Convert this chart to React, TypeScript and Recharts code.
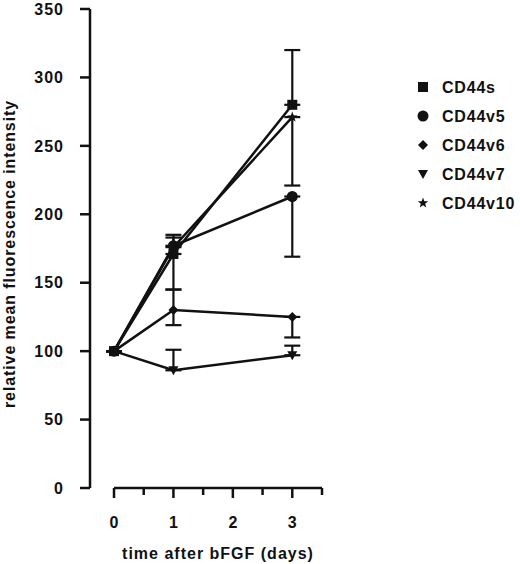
import { LineChart, Line, XAxis, YAxis, ErrorBar, ReferenceLine, Legend } from 'recharts';

// days after bFGF
const days = [0, 1, 3];
const cd44s = [100, 171, 280];
const cd44v5 = [100, 177, 213];
const cd44v6 = [100, 130, 125];
const cd44v7 = [100, 86, 97];
const cd44v10 = [100, 176, 271];
// [down, up] error per point
const cd44sErr = [[0, 0], [26, 0], [0, 40]];
const cd44v5Err = [[0, 0], [0, 8], [44, 0]];
const cd44v6Err = [[0, 0], [11, 15], [15, 0]];
const cd44v7Err = [[0, 0], [0, 15], [0, 7]];
const cd44v10Err = [[0, 0], [0, 7], [50, 0]];

const xTicks = [0, 0.5, 1, 1.5, 2, 2.5, 3, 3.5];
const yTicks = [0, 50, 100, 150, 200, 250, 300, 350];

const rows = days.map((d, i) => ({
  day: d,
  cd44s: cd44s[i], cd44sErr: cd44sErr[i],
  cd44v5: cd44v5[i], cd44v5Err: cd44v5Err[i],
  cd44v6: cd44v6[i], cd44v6Err: cd44v6Err[i],
  cd44v7: cd44v7[i], cd44v7Err: cd44v7Err[i],
  cd44v10: cd44v10[i], cd44v10Err: cd44v10Err[i],
}));

const series = [
  { key: 'cd44s', name: 'CD44s', shape: 'square' },
  { key: 'cd44v5', name: 'CD44v5', shape: 'circle' },
  { key: 'cd44v6', name: 'CD44v6', shape: 'diamond' },
  { key: 'cd44v7', name: 'CD44v7', shape: 'triangle' },
  { key: 'cd44v10', name: 'CD44v10', shape: 'star' },
];

const INK = '#111';
const FONT = '"Liberation Sans", Arial, sans-serif';

function Marker({ shape, cx, cy }: { shape: string; cx: number; cy: number }) {
  if (shape === 'square') return <rect x={cx - 5} y={cy - 5} width={10} height={10} fill={INK} />;
  if (shape === 'circle') return <circle cx={cx} cy={cy} r={5.5} fill={INK} />;
  if (shape === 'diamond')
    return <polygon points={`${cx},${cy - 5} ${cx + 5},${cy} ${cx},${cy + 5} ${cx - 5},${cy}`} fill={INK} />;
  if (shape === 'triangle')
    return <polygon points={`${cx - 5},${cy - 4} ${cx + 5},${cy - 4} ${cx},${cy + 5}`} fill={INK} />;
  const pts: string[] = [];
  for (let k = 0; k < 10; k++) {
    const r = k % 2 === 0 ? 5.5 : 2.3;
    const a = -Math.PI / 2 + (k * Math.PI) / 5;
    pts.push(`${cx + r * Math.cos(a)},${cy + r * Math.sin(a)}`);
  }
  return <polygon points={pts.join(' ')} fill={INK} />;
}

function XTick({ x, y, payload }: any) {
  const major = Number.isInteger(payload.value);
  return (
    <g>
      <line x1={x} x2={x} y1={y} y2={y + (major ? 10 : 7)} stroke={INK} strokeWidth={2.5} />
      {major && (
        <text x={x} y={y + 40} textAnchor="middle" fontSize={16} fontWeight="bold" fill={INK} fontFamily={FONT}>
          {payload.value}
        </text>
      )}
    </g>
  );
}

function LegendBox() {
  return (
    <svg width={105} height={150}>
      {series.map((s, i) => (
        <g key={s.key}>
          <Marker shape={s.shape} cx={8} cy={12 + i * 29} />
          <text x={27} y={12 + i * 29 + 6} fontSize={16} fontWeight="bold" fill={INK} fontFamily={FONT} letterSpacing={0.8}>
            {s.name}
          </text>
        </g>
      ))}
    </svg>
  );
}

export default function App() {
  return (
    <div style={{ position: 'absolute', left: 0, top: 0, width: 520, height: 564, background: '#fff' }}>
      <LineChart width={520} height={564} data={rows} margin={{ top: 9, right: 198, bottom: 26, left: 20 }}>
        <XAxis
          type="number"
          dataKey="day"
          domain={[-0.404, 3.5]}
          ticks={xTicks}
          axisLine={false}
          tickLine={false}
          tickSize={0}
          tickMargin={0}
          height={50}
          tick={<XTick />}
          interval={0}
          label={{
            content: () => (
              <text x={218} y={559} textAnchor="middle" fontSize={16} fontWeight="bold" fill={INK} fontFamily={FONT} letterSpacing={1}>
                time after bFGF (days)
              </text>
            ),
          }}
        />
        <YAxis
          type="number"
          domain={[0, 350]}
          ticks={yTicks}
          width={70}
          interval={0}
          tickSize={10}
          tickMargin={16}
          axisLine={{ stroke: INK, strokeWidth: 2.5 }}
          tickLine={{ stroke: INK, strokeWidth: 2.5 }}
          tick={{ fill: INK, fontSize: 16, fontWeight: 'bold', fontFamily: FONT, letterSpacing: 1 }}
          label={{
            content: () => (
              <text x={15} y={254} transform="rotate(-90, 15, 254)" textAnchor="middle" fontSize={16} fontWeight="bold" fill={INK} fontFamily={FONT} letterSpacing={0.9}>
                relative mean fluorescence intensity
              </text>
            ),
          }}
        />
        <ReferenceLine segment={[{ x: 0, y: 0 }, { x: 3.5, y: 0 }]} stroke={INK} strokeWidth={2.5} ifOverflow="visible" />
        {[...series].reverse().map((s) => (
          <Line
            key={s.key}
            type="linear"
            dataKey={s.key}
            name={s.name}
            stroke={INK}
            strokeWidth={2.5}
            isAnimationActive={false}
            activeDot={false}
            dot={(p: any) => <Marker key={`${s.key}-${p.index}`} shape={s.shape} cx={p.cx} cy={p.cy} />}
          >
            <ErrorBar dataKey={`${s.key}Err`} direction="y" width={8} stroke={INK} strokeWidth={2.2} isAnimationActive={false} />
          </Line>
        ))}
        <Legend
          layout="vertical"
          align="center"
          verticalAlign="middle"
          content={() => <LegendBox />}
          wrapperStyle={{ left: 415, top: 75, width: 105, height: 150 }}
        />
      </LineChart>
    </div>
  );
}
